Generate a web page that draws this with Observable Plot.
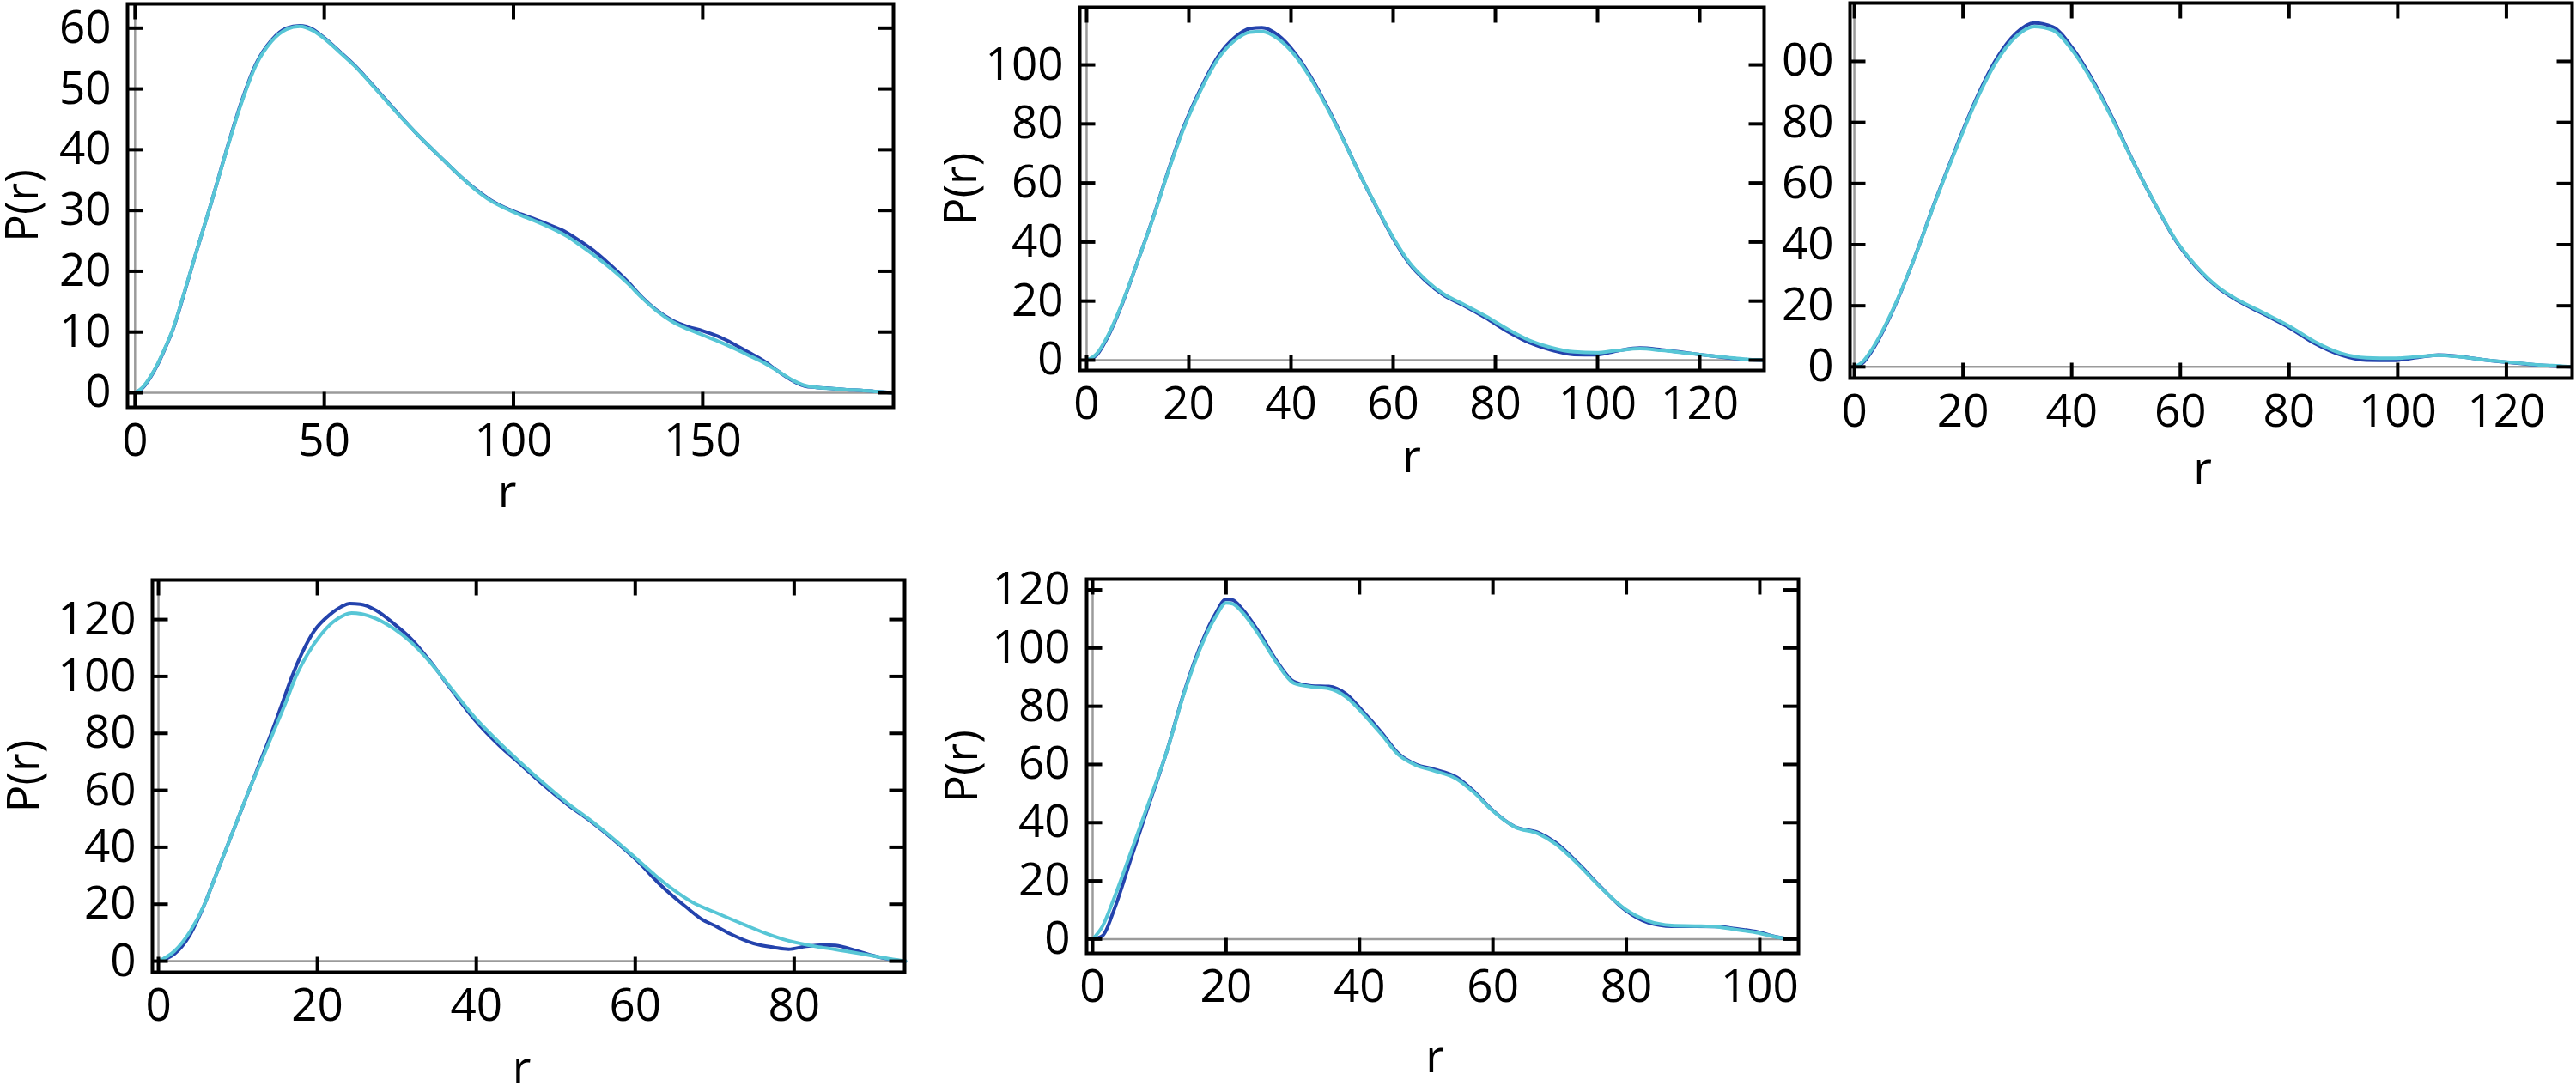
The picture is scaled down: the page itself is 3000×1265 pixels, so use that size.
<!DOCTYPE html>
<html><head><meta charset="utf-8">
<script src="https://cdn.jsdelivr.net/npm/d3@7"></script>
<script src="https://cdn.jsdelivr.net/npm/@observablehq/plot@0.6"></script>
<style>
html,body{margin:0;padding:0;background:#fff;}
#root{position:relative;width:3000px;height:1265px;overflow:hidden;background:#fff;}
.panel{position:absolute;overflow:hidden;}
.panel svg{position:absolute;max-width:none !important;background:transparent !important;}
.panel svg text{font-weight:500;}
</style></head><body><div id="root"></div>
<script>
// ---------- tick values ----------
const p1_xTicks = [0, 50, 100, 150];
const p1_yTicks = [0, 10, 20, 30, 40, 50, 60];
const p2_xTicks = [0, 20, 40, 60, 80, 100, 120];
const p2_yTicks = [0, 20, 40, 60, 80, 100];
const p3_xTicks = [0, 20, 40, 60, 80, 100, 120];
const p3_yTicks = [0, 20, 40, 60, 80, 100];
const p4_xTicks = [0, 20, 40, 60, 80];
const p4_yTicks = [0, 20, 40, 60, 80, 100, 120];
const p5_xTicks = [0, 20, 40, 60, 80, 100];
const p5_yTicks = [0, 20, 40, 60, 80, 100, 120];

// ---------- panel 1 ----------
const p1_r = [0,2,4,6,8,10,13,16,20,24,28,32,36,40,43.5,47,50,54,58,62,66,70,74,78,82,86,90,94,98,102,106,110,114,118,122,126,130,134,138,142,146,150,154,158,162,166,170,174,177,180,184,188,192,196,200];
const p1_light = [0,0.9,2.6,4.8,7.5,10.5,16.5,22.8,31,39.5,47.5,54,57.8,59.8,60.3,59.6,58.3,56.1,53.8,51.1,48.3,45.5,42.9,40.4,38,35.6,33.4,31.6,30.3,29.2,28.2,27.1,25.8,24.1,22.3,20.3,18.1,15.6,13.4,11.7,10.5,9.5,8.5,7.4,6.2,5,3.5,2,1.2,0.9,0.7,0.5,0.4,0.2,0];
const p1_dark  = [0,0.8,2.5,4.7,7.4,10.4,16.4,22.8,31,39.6,47.7,54.2,58,60,60.4,59.8,58.4,56.2,53.9,51.2,48.4,45.6,42.9,40.4,38,35.6,33.5,31.7,30.4,29.4,28.5,27.5,26.4,24.8,23,20.8,18.4,15.7,13.5,11.9,10.9,10.2,9.3,8.1,6.7,5.3,3.5,1.9,1.1,0.9,0.7,0.5,0.4,0.2,0];

// ---------- panel 2 ----------
const p2_r = [0,2,4,7,10,13,16,19,22.5,25.7,29,32,34.3,37.5,40.7,44,47.2,50.4,53.6,56.8,60,63.2,66.5,69.7,74,78.2,82.5,86.8,91,95.4,99.7,104,108.3,112.5,116.8,121,125.4,129.7,132.5];
const p2_light = [0,2.2,7.8,19.5,33.5,48,64,78.5,92,102,108.3,111.1,111.3,108.8,103.4,95,85,74,62.5,51.8,41.5,33,27,22.6,18.7,14.8,10.4,6.6,4.2,2.8,2.5,3.3,3.9,3.3,2.5,1.7,0.9,0.2,0];
const p2_dark  = [0,1.8,7.4,19.2,33.5,48.2,64.3,79,92.6,102.8,109.3,112.3,112.6,110,104.2,95.6,85.4,74.2,62.5,51.6,41.2,32.6,26.6,22.2,18.3,14.2,9.6,5.8,3.4,1.9,1.8,3.2,4.1,3.5,2.6,1.7,0.8,0.1,0];

// ---------- panel 3 ----------
const p3_r = [0,1.5,3.3,7.1,10.9,14.7,18.5,22.3,26,29.8,33.1,36.5,40.2,44,47.8,51.6,55.4,59.2,63,66.8,70.5,75.3,80,84.8,89.5,94.2,99,103.7,107.5,111.3,116,120.7,126.4,130.7,132];
const p3_light = [0,1.6,5.9,18.8,34.9,53.2,70.4,86.6,99.5,108.2,111.4,110.2,103.4,92.8,80,66.1,53.2,41.4,32.8,26.3,22,17.7,13.4,8.2,4.5,3,2.8,3.3,3.8,3.3,2.3,1.5,0.6,0.2,0];
const p3_dark  = [0,1.2,5.4,18.5,34.9,53.4,70.8,87.2,100.4,109.3,112.6,111.3,104.2,93.4,80.4,66.2,53.1,41.2,32.5,26,21.7,17.3,12.9,7.6,3.9,2.2,2.1,3.1,3.9,3.4,2.3,1.4,0.5,0.1,0];

// ---------- panel 4 ----------
const p4_r_dark = [0,2,4,5.8,7.2,8.6,10,11.4,12.8,14.2,15.5,16.8,18.2,19.6,21.6,23,24.1,25.4,27.4,29.6,31.8,34,36.9,39.8,42.8,45.7,48.6,51.5,54.5,57.4,60.3,63.2,66.4,68.5,70.2,72,74.9,77.5,79.3,81.5,83.7,85.2,88.1,91,93.2,94];
const p4_dark = [0,2.5,9.4,20,30,40,50,60,70,80,90,100,109,116,121.8,124.5,125.6,125.4,123.2,118.6,113.2,106,95.2,84.8,76,68.8,61.5,54.9,48.9,42.3,35.1,26.7,19,14.5,12.2,9.5,6.2,4.8,4.2,5.2,5.7,5.5,3.4,1.2,0.2,0];
const p4_r_light = [0,2,4,5.8,7.2,8.6,10,11.4,12.9,14.4,15.9,17.3,18.8,20.4,22,23.4,24.3,25.5,27.4,29.6,31.8,34,36.9,39.8,42.8,45.7,48.6,51.5,54.5,57.4,60.3,62.5,64.7,67.3,70,73.8,76.4,79.2,82.8,85.2,88.2,91,93.2,94];
const p4_light = [0,3.5,10.5,20,30,40,50,60,70,80,90,100,108,114.5,119.2,121.6,122.3,122,120.3,116.8,112,105.6,95.6,85.6,77,69.4,62.2,55.4,49.2,42.6,35.6,30.2,25.3,20.5,17.2,12.7,9.8,7.2,5.1,4.1,2.7,1.3,0.3,0];

// ---------- panel 5 ----------
const p5_r = [0,1.5,3.2,5.8,8.4,11.1,13.7,16.3,18.5,20,21,22.4,25,27.6,30.2,32.8,35.4,38,40.6,43.3,45.9,48.5,51.1,54.6,57.2,59.8,63.3,66.8,69.4,72.8,76.3,79.8,83.3,86.8,90.3,93.7,96.3,99.8,102.4,104.5];
const p5_light = [0,4.5,14,30.3,46.8,64.4,84.4,100.8,111,115.5,115.2,112.4,104.3,94.9,87.9,86.7,86.1,83.2,77.3,70.3,63.2,59.7,57.9,55,50.3,44.4,38.5,36.2,32.7,25.6,17.4,10.3,6.2,4.7,4.5,4.2,3.3,2.1,0.7,0];
const p5_dark  = [0,1.2,10,28,46,64.4,84.8,101.6,112.2,116.8,116.5,113.5,105.2,95.5,88.4,87,86.8,84.2,78,71,63.6,60,58.4,55.6,50.7,44.6,38.6,36.6,33.2,26,17.6,10,5.6,4.4,4.4,4.3,3.6,2.4,0.8,0];

const DARK = "#2443ad";
const LIGHT = "#57c6d6";
const FONT = 53;
const FAMILY = '"Open Sans", "Noto Sans", sans-serif';

const tickShape = {draw(ctx, l) { ctx.moveTo(0, 0); ctx.lineTo(0, -l); }};
const rows = (r, p) => r.map((v, i) => ({r: v, p: p[i]}));

function makePanel(cfg) {
  const tickOpts = {shape: tickShape, length: 18, anchor: "start", stroke: "black", strokeWidth: 4, strokeLinecap: "butt"};
  const plot = Plot.plot({
    width: cfg.w, height: cfg.h,
    marginLeft: cfg.m[0], marginTop: cfg.m[1], marginRight: cfg.m[2], marginBottom: cfg.m[3],
    style: {fontFamily: FAMILY, fontSize: FONT + "px", color: "black", background: "transparent"},
    x: {domain: cfg.xd, label: null},
    y: {domain: cfg.yd, label: null},
    marks: [
      Plot.ruleY([0], {stroke: "#9b9b9b", strokeWidth: 2.5}),
      Plot.ruleX([0], {stroke: "#9b9b9b", strokeWidth: 2.5}),
      ...cfg.series.map(s => Plot.line(rows(s.r, s.p), {x: "r", y: "p", stroke: s.color, strokeWidth: 4, curve: "monotone-x"})),
      Plot.frame({stroke: "black", strokeWidth: 4}),
      Plot.vector(cfg.xt, {x: d => d, frameAnchor: "bottom", rotate: 0, ...tickOpts}),
      Plot.vector(cfg.xt, {x: d => d, frameAnchor: "top", rotate: 180, ...tickOpts}),
      Plot.vector(cfg.yt, {y: d => d, frameAnchor: "left", rotate: 90, ...tickOpts}),
      Plot.vector(cfg.yt, {y: d => d, frameAnchor: "right", rotate: -90, ...tickOpts}),
      Plot.axisX(cfg.xt, {anchor: "bottom", tickSize: 0, tickPadding: 19, fontSize: FONT, label: null}),
      Plot.axisY(cfg.yt, {anchor: "left", tickSize: 0, tickPadding: 19, fontSize: FONT, label: null}),
      Plot.text(["P(r)"], {frameAnchor: "left", textAnchor: "middle", lineAnchor: "middle", dx: -cfg.yl, rotate: -90, fontSize: FONT, text: d => d, fill: "black"}),
      Plot.text(["r"], {frameAnchor: "bottom", textAnchor: "middle", lineAnchor: "middle", dx: cfg.xdx, dy: cfg.xl, fontSize: FONT, text: d => d, fill: "black"})
    ]
  });
  const div = document.createElement("div");
  div.className = "panel";
  div.style.left = cfg.box[0] + "px";
  div.style.top = cfg.box[1] + "px";
  div.style.width = cfg.box[2] + "px";
  div.style.height = cfg.box[3] + "px";
  plot.style.left = (cfg.svgX - cfg.box[0]) + "px";
  plot.style.top = "0px";
  plot.style.maxWidth = "none";
  div.appendChild(plot);
  document.getElementById("root").appendChild(div);
}

makePanel({svgX: 0, box: [0, 0, 1060, 640], w: 1060, h: 640, m: [148, 4, 20, 166],
  xd: [-2.0, 200.4], yd: [-2.4, 64.0], xt: p1_xTicks, yt: p1_yTicks, yl: 121, xl: 100, xdx: -4,
  series: [{r: p1_r, p: p1_dark, color: DARK}, {r: p1_r, p: p1_light, color: LIGHT}]});

makePanel({svgX: 1070, box: [1070, 0, 1000, 640], w: 1000, h: 640, m: [187, 8, 16, 209],
  xd: [-1.34, 132.6], yd: [-3.5, 119.5], xt: p2_xTicks, yt: p2_yTicks, yl: 137, xl: 102, xdx: -12,
  series: [{r: p2_r, p: p2_dark, color: DARK}, {r: p2_r, p: p2_light, color: LIGHT}]});

makePanel({svgX: 2000, box: [2070, 0, 930, 640], w: 1000, h: 640, m: [154, 3, 5, 200],
  xd: [-0.8, 132.1], yd: [-3.7, 119.1], xt: p3_xTicks, yt: p3_yTicks, yl: 137, xl: 107, xdx: -10,
  series: [{r: p3_r, p: p3_dark, color: DARK}, {r: p3_r, p: p3_light, color: LIGHT}]});

makePanel({svgX: 0, box: [0, 640, 1070, 625], w: 1070, h: 625, m: [177, 35, 17, 133],
  xd: [-0.76, 93.9], yd: [-3.9, 133.9], xt: p4_xTicks, yt: p4_yTicks, yl: 148, xl: 113, xdx: -8,
  series: [{r: p4_r_dark, p: p4_dark, color: DARK}, {r: p4_r_light, p: p4_light, color: LIGHT}]});

makePanel({svgX: 1070, box: [1070, 640, 1070, 625], w: 1070, h: 625, m: [195, 34, 46, 155],
  xd: [-0.9, 105.8], yd: [-4.9, 123.7], xt: p5_xTicks, yt: p5_yTicks, yl: 144, xl: 122, xdx: -9,
  series: [{r: p5_r, p: p5_dark, color: DARK}, {r: p5_r, p: p5_light, color: LIGHT}]});
</script>
</body></html>
